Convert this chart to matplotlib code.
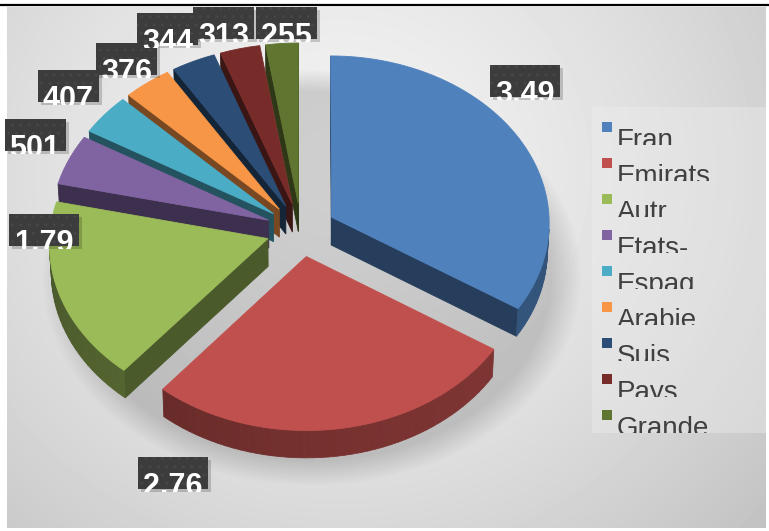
import numpy as np
import matplotlib
matplotlib.use('Agg')
import matplotlib.pyplot as plt
from matplotlib.patches import Polygon, Rectangle
from matplotlib.colors import to_rgb

# export by destination country
countries = ['Fran', 'Emirats', 'Autr', 'Etats-', 'Espag', 'Arabie', 'Suis', 'Pays', 'Grande']
values = [3490, 2760, 1790, 501, 407, 376, 344, 313, 255]
colors = ['#4f81bd', '#c0504d', '#9bbb59', '#8064a2', '#4bacc6',
          '#f79646', '#2c4d75', '#772c2a', '#5f7530']

# label anchors in pie coords (angle in deg, radius)
label_polar = [(41, 1.40), (-112, 1.50), (180, 1.18), (155, 1.37), (141, 1.41),
               (128, 1.34), (117, 1.40), (106, 1.34), (93, 1.29)]

W, H = 769, 531
cx, cy = 301, 230          # pie centre (px)
Rx = 218                   # radius (px)
el = np.radians(50)        # view elevation
D = 21.0                   # camera distance (in radii)
hz = 0.2                   # thickness (in radii)
explode = 0.16


def proj(X, Y, z=0.0):
    X = np.asarray(X, float)
    Y = np.asarray(Y, float)
    depth = D + Y * np.cos(el) - z * np.sin(el)
    sx = X * D / depth
    sy = (Y * np.sin(el) + z * np.cos(el)) * D / depth
    return np.column_stack([cx + Rx * sx, cy - Rx * sy])


def shade(c, f):
    r, g, b = to_rgb(c)
    return (r * f, g * f, b * f)


cam = np.array([0.0, -D * np.cos(el), D * np.sin(el)])

fig = plt.figure(figsize=(W / 100, H / 100), dpi=100)
ax = fig.add_axes([0, 0, 1, 1])
ax.set_xlim(0, W)
ax.set_ylim(H, 0)
ax.axis('off')

# chart area background (radial grey gradient)
gx, gy = np.meshgrid(np.arange(7, 766), np.arange(7, 528))
rr = np.hypot(gx - 340, (gy - 170) / 0.95)
bg = 0.95 - 0.18 * np.clip(rr / 547, 0, 1.2) ** 1.5
ax.imshow(bg, cmap='gray', vmin=0, vmax=1, extent=[7, 766, 528, 7],
          interpolation='bilinear', zorder=0, aspect='auto')
ax.plot([0, W], [5, 5], color='black', lw=1.6, zorder=1)

total = float(sum(values))
ends = 90 - np.cumsum(values) / total * 360
starts = np.concatenate([[90], ends[:-1]])

slices = []
for i, v in enumerate(values):
    t0, t1 = starts[i], ends[i]           # t0 > t1 (clockwise)
    mid = np.radians((t0 + t1) / 2)
    sx, sy = explode * np.cos(mid), explode * np.sin(mid)
    n = max(int(abs(t0 - t1) / 2), 4)
    t = np.radians(np.linspace(t1, t0, n))
    ex, ey = sx + np.cos(t), sy + np.sin(t)
    slices.append(dict(i=i, t=t, ex=ex, ey=ey, sx=sx, sy=sy,
                       t0=np.radians(t0), t1=np.radians(t1),
                       key=sy + 0.55 * np.sin(mid)))

# soft shadow under the pie
ring = np.linspace(0, 2 * np.pi, 120)
for k in range(12):
    sc = 1.24 - 0.012 * k
    sh = proj(sc * np.cos(ring) + 0.05, sc * np.sin(ring) - 0.07, -hz)
    ax.add_patch(Polygon(sh, closed=True, fc='black', alpha=0.012, lw=0, zorder=2))

for s in sorted(slices, key=lambda s: -s['key']):
    c = colors[s['i']]
    z = 10 + (1 - s['key'])
    faces = []
    # outer curved wall, only the parts facing the viewer
    for k in range(len(s['t']) - 1):
        tm = 0.5 * (s['t'][k] + s['t'][k + 1])
        nrm = np.array([np.cos(tm), np.sin(tm), 0])
        p = np.array([s['sx'] + np.cos(tm), s['sy'] + np.sin(tm), 0])
        if np.dot(cam - p, nrm) <= 0:
            continue
        xs = [s['ex'][k], s['ex'][k + 1], s['ex'][k + 1], s['ex'][k]]
        ys = [s['ey'][k], s['ey'][k + 1], s['ey'][k + 1], s['ey'][k]]
        top = proj(xs[:2], ys[:2], 0)
        bot = proj(xs[2:], ys[2:], -hz)
        f = 0.55 + 0.1 * np.cos(tm + 0.6)
        faces.append((np.sin(tm), np.vstack([top, bot]), shade(c, f)))
    # radial walls
    for ang, sgn in ((s['t0'], 1), (s['t1'], -1)):
        nrm = sgn * np.array([-np.sin(ang), np.cos(ang), 0])
        p = np.array([s['sx'], s['sy'], 0])
        if np.dot(cam - p, nrm) <= 0:
            continue
        xs = [s['sx'], s['sx'] + np.cos(ang)]
        ys = [s['sy'], s['sy'] + np.sin(ang)]
        top = proj(xs, ys, 0)
        bot = proj(xs[::-1], ys[::-1], -hz)
        faces.append((s['sy'] + 0.5 * np.sin(ang), np.vstack([top, bot]), shade(c, 0.48)))
    for _, pts, fc in sorted(faces, key=lambda f: -f[0]):
        ax.add_patch(Polygon(pts, closed=True, fc=fc, ec=fc, lw=0.6, zorder=z))
    top = proj(np.concatenate([[s['sx']], s['ex']]),
               np.concatenate([[s['sy']], s['ey']]), 0)
    ax.add_patch(Polygon(top, closed=True, fc=c, ec=c, lw=0.6, zorder=z + 0.01))

# data labels (dark boxes, text cut off by the box)
for i, v in enumerate(values):
    txt = f'{v:,}'.replace(',', '.')[:4]
    ang, r = label_polar[i]
    lx, ly = proj(r * np.cos(np.radians(ang)), r * np.sin(np.radians(ang)))[0]
    bw = 61 if len(txt) == 3 else 70
    bh = 32
    x0, y0 = lx - bw / 2, ly - bh / 2
    ax.add_patch(Rectangle((x0 + 3, y0 + 3), bw, bh, fc='black', alpha=0.18, lw=0, zorder=30))
    ax.add_patch(Rectangle((x0, y0), bw, bh, fc='#3c3c3c', ec='#464646', hatch='..',
                           lw=0, zorder=31))
    t = ax.text(lx, y0 + 38, txt, color='white', fontsize=22, fontweight='bold',
                family='Liberation Sans', ha='center', va='baseline', zorder=32,
                clip_on=True)
    t.set_clip_path(Rectangle((x0, y0), bw, bh + 3, transform=ax.transData))

# legend
ax.add_patch(Rectangle((592, 107), 174, 326, fc='#eeeeee', ec='none', alpha=0.4, zorder=20))
for i, name in enumerate(countries):
    sq = 122 + 36 * i
    ax.add_patch(Rectangle((602, sq), 10, 10, fc=colors[i], lw=0, zorder=21))
    t = ax.text(617, sq + 26, name, color='#404040', fontsize=20,
                family='Liberation Sans', ha='left', va='baseline', zorder=21,
                clip_on=True)
    t.set_clip_path(Rectangle((600, sq - 14), 166, 37, transform=ax.transData))

plt.savefig('out.png', dpi=100)
plt.close()
